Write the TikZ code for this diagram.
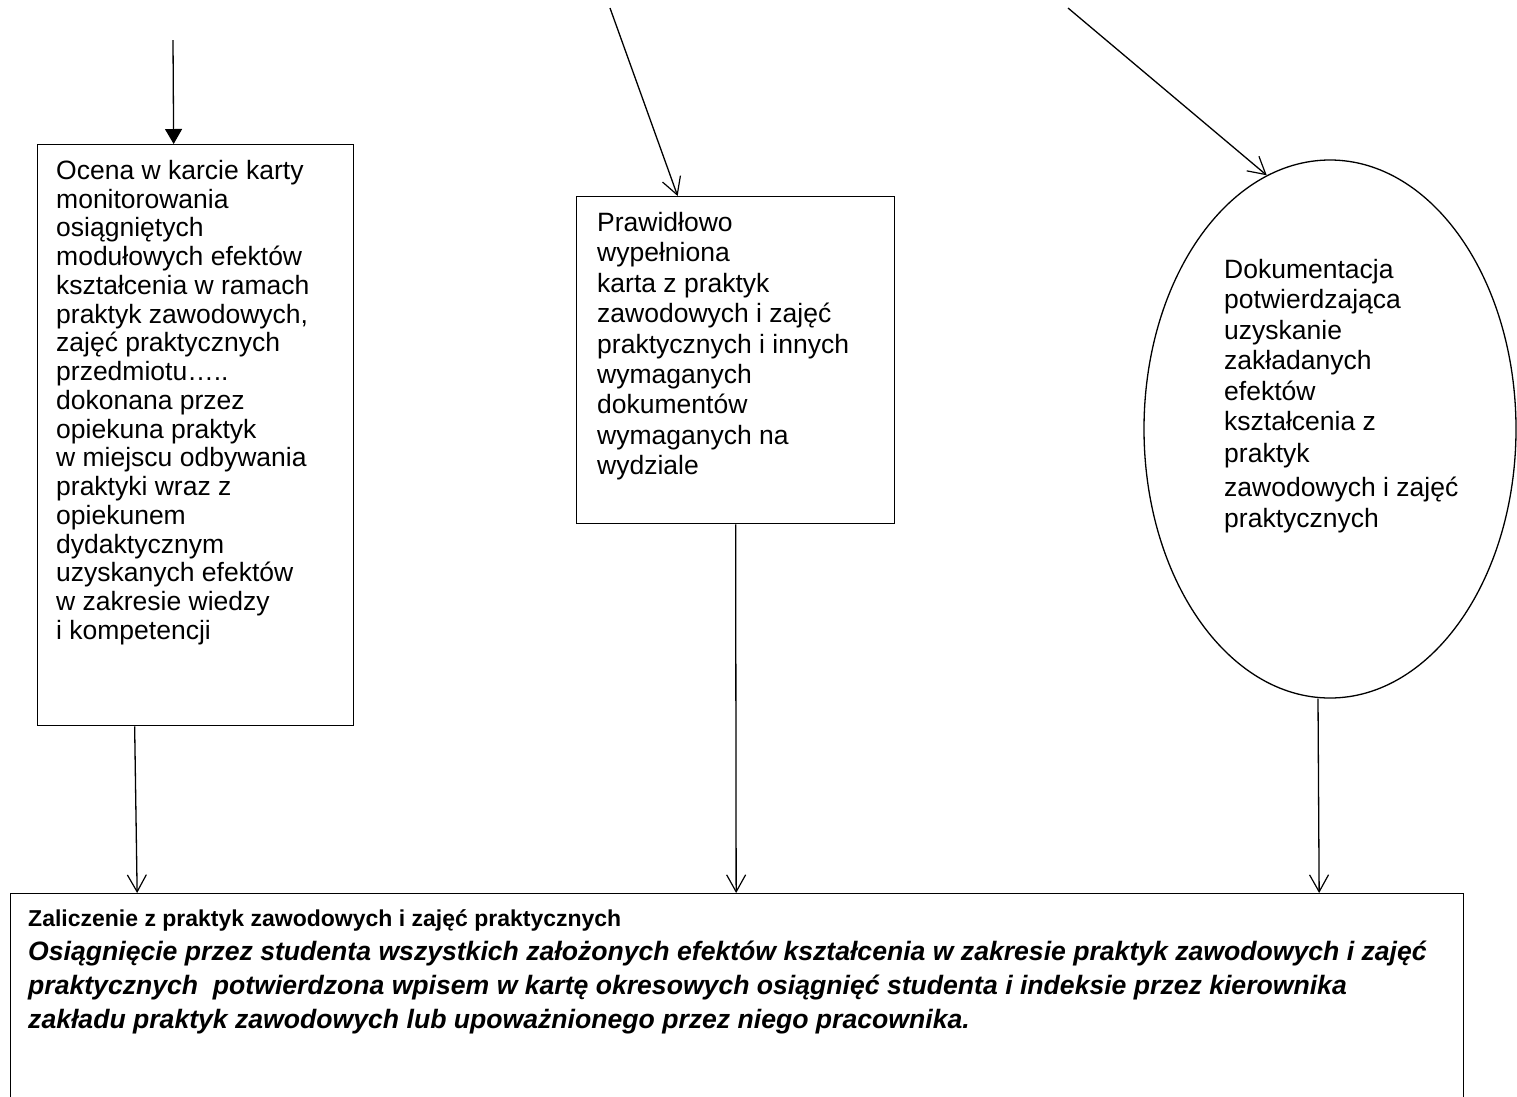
\documentclass[tikz,border=0pt]{standalone}
\usepackage{fontspec}
\setmainfont{Liberation Sans}
\usetikzlibrary{arrows.meta,shapes.geometric}

% body text of the three source blocks and of the summary box
\newcommand{\bodytext}{\fontsize{26.5}{30.4}\selectfont}
\newcommand{\evaltextfont}{\fontsize{26.5}{28.75}\selectfont}
\newcommand{\foottext}{\fontsize{26.6}{34}\selectfont\bfseries}
\newcommand{\foothead}{\fontsize{23}{34}\selectfont}

\begin{document}
\begin{tikzpicture}[x=1pt,y=-1pt,
  frame/.style={draw, line width=1.3pt, inner sep=0pt, anchor=north west},
  blocktext/.style={align=left, inner sep=0pt, anchor=north west, font=\bodytext},
  flow/.style={line width=1.3pt, -{Straight Barb[length=17pt,width=19pt,line width=1.2pt]}},
  lead/.style={line width=1.3pt, -{Triangle[length=15pt,width=17pt]}},
]
\useasboundingbox (0,0) rectangle (1517,1096);
\clip (0,0) rectangle (1517,1096);

% frames
\node[frame, minimum width=316pt, minimum height=581pt] (evalbox) at (37,144) {};
\node[frame, minimum width=318pt, minimum height=327pt] (cardbox) at (576,196) {};
\node[draw, ellipse, line width=1.3pt, inner sep=0pt,
      minimum width=372pt, minimum height=538pt] (docs) at (1330,429) {};
\node[frame, minimum width=1453pt, minimum height=230pt] (final) at (10,893) {};

% texts
\node[blocktext, font=\evaltextfont] (evaltext) at (56,160) {Ocena w karcie karty\\
monitorowania\\
osiągniętych\\
modułowych efektów\\
kształcenia w ramach\\
praktyk zawodowych,\\
zajęć praktycznych\\
przedmiotu…..\\
dokonana przez\\
opiekuna praktyk\\
w miejscu odbywania\\
praktyki wraz z\\
opiekunem\\
dydaktycznym\\
uzyskanych efektów\\
w zakresie wiedzy\\
i kompetencji};

\node[blocktext] (cardtext) at (597,212) {Prawidłowo\\
wypełniona\\
karta z praktyk\\
zawodowych i zajęć\\
praktycznych i innych\\
wymaganych\\
dokumentów\\
wymaganych na\\
wydziale};

\node[blocktext] (docstext) at (1224,259) {Dokumentacja\\
potwierdzająca\\
uzyskanie\\
zakładanych\\
efektów\\
kształcenia z\\[1.5pt]
praktyk\\[3.5pt]
zawodowych i zajęć\\[1pt]
praktycznych};

\node[blocktext, font=\foottext] (finaltext) at (28,909) {{\foothead Zaliczenie z praktyk zawodowych i zajęć praktycznych}\\
\itshape Osiągnięcie przez studenta wszystkich założonych efektów kształcenia w zakresie praktyk zawodowych i zajęć\\
\itshape praktycznych\ \ potwierdzona wpisem w kartę okresowych osiągnięć studenta i indeksie przez kierownika\\
\itshape zakładu praktyk zawodowych lub upoważnionego przez niego pracownika.};

% incoming connectors
\coordinate (srcA) at (173,40);
\coordinate (srcB) at (610,8);
\coordinate (srcC) at (1068,8);
\draw[lead] (srcA) -- ([xshift=-22pt]evalbox.north);
\draw[flow] (srcB) -- ([xshift=-58pt]cardbox.north);
\draw[flow] (srcC) -- (docs.104);

% connectors into the summary box
\draw[flow] ([xshift=-61pt]evalbox.south) -- ([xshift=-600pt]final.north);
\draw[flow] (cardbox.south) -- ([xshift=-1pt]final.north);
\draw[flow] ([xshift=-12pt]docs.south) -- ([xshift=582pt]final.north);
\end{tikzpicture}
\end{document}
